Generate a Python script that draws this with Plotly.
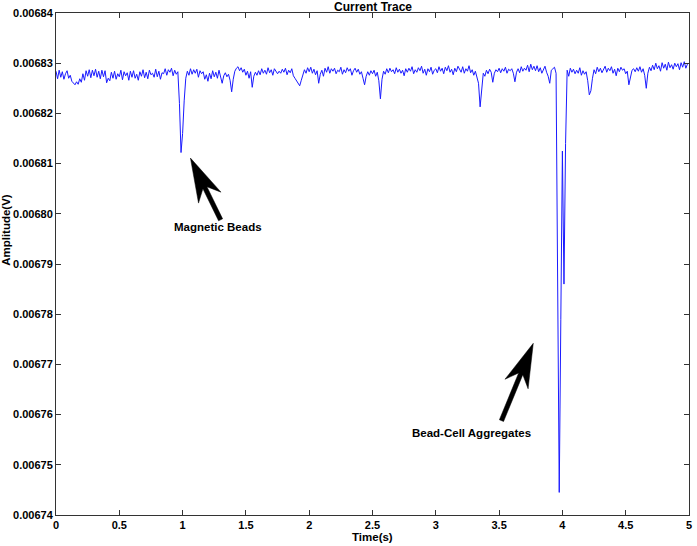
import numpy as np
import plotly.graph_objects as go

# ---------------- data ----------------
DT = 0.0125  # sampling step of the trace, seconds
amplitude_uV = [
    # 0.0 - 0.1875
    6828.4, 6826.9, 6828.6, 6827.2, 6828.3, 6826.8, 6827.9, 6828.5, 6827.0, 6827.6, 6826.4, 6826.0, 6825.7, 6826.3, 6825.8, 6826.9,
    # 0.2
    6826.2, 6827.9, 6826.6, 6828.5, 6827.4, 6828.7, 6827.1, 6828.6, 6827.5, 6828.8, 6827.2, 6828.4, 6826.9, 6828.6, 6827.3, 6828.5,
    # 0.4
    6826.1, 6827.0, 6826.5, 6828.2, 6827.0, 6828.4, 6826.8, 6827.9, 6827.3, 6828.6, 6826.7, 6828.3, 6827.5, 6828.1, 6826.6, 6828.4,
    # 0.6
    6827.2, 6828.5, 6827.0, 6827.8, 6826.6, 6828.3, 6827.4, 6828.7, 6827.1, 6828.2, 6826.9, 6828.6, 6827.7, 6828.0, 6827.2, 6828.8,
    # 0.8
    6827.3, 6828.4, 6826.8, 6828.1, 6827.9, 6828.9, 6827.6, 6828.7, 6828.2, 6829.0, 6827.5, 6828.6, 6827.8, 6828.3, 6822.0, 6812.2,
    # 1.0
    6816.0, 6822.5, 6827.0, 6828.4, 6827.6, 6828.9, 6827.8, 6828.7, 6828.0, 6828.8, 6827.2, 6828.5, 6827.9, 6828.3, 6826.8, 6827.7,
    # 1.2
    6826.4, 6828.0, 6826.9, 6828.5, 6827.3, 6828.2, 6827.0, 6828.6, 6827.4, 6826.0, 6827.5, 6828.1, 6827.3, 6827.8, 6826.6, 6824.3,
    # 1.4
    6826.8, 6828.4, 6829.0, 6829.3, 6828.5, 6829.1, 6828.2, 6828.8, 6827.6, 6828.4, 6827.0, 6828.3, 6825.2, 6827.4, 6828.2, 6827.6,
    # 1.6
    6828.5, 6827.7, 6828.9, 6828.0, 6828.6, 6827.8, 6829.1, 6828.1, 6828.7, 6827.6, 6828.9, 6828.3, 6827.9, 6828.4, 6828.0, 6828.8,
    # 1.8
    6828.2, 6829.0, 6827.7, 6828.6, 6828.1, 6828.9, 6827.5, 6827.0, 6826.4, 6825.8, 6825.5, 6826.6, 6827.6, 6828.7, 6828.0, 6829.1,
    # 2.0
    6828.3, 6829.2, 6828.0, 6828.8, 6827.7, 6828.5, 6826.0, 6827.8, 6828.6, 6827.4, 6829.0, 6828.2, 6829.3, 6828.0, 6828.9, 6828.4,
    # 2.2
    6829.0, 6827.9, 6828.6, 6828.3, 6829.2, 6827.8, 6828.7, 6828.1, 6829.1, 6828.4, 6828.9, 6827.6, 6828.5, 6829.0, 6828.2, 6828.8,
    # 2.4
    6827.8, 6828.3, 6827.0, 6825.7, 6827.4, 6828.3, 6827.6, 6828.5, 6827.9, 6828.6, 6827.4, 6828.2, 6826.5, 6822.9, 6826.8, 6828.4,
    # 2.6
    6827.8, 6828.9, 6828.1, 6829.0, 6828.3, 6828.7, 6827.9, 6829.1, 6828.2, 6828.8, 6828.0, 6828.6, 6827.5, 6828.9, 6828.2, 6829.0,
    # 2.8
    6828.4, 6829.3, 6827.9, 6828.7, 6828.2, 6829.1, 6828.5, 6829.4, 6828.0, 6828.8, 6827.6, 6828.9, 6828.3, 6829.2, 6827.8, 6828.6,
    # 3.0
    6828.9, 6828.1, 6829.3, 6828.4, 6829.0, 6827.9, 6829.2, 6828.5, 6829.5, 6828.2, 6828.8, 6827.7, 6829.0, 6828.3, 6829.4, 6828.6,
    # 3.2
    6828.2, 6829.3, 6828.0, 6828.9, 6828.4, 6829.5, 6828.1, 6828.7, 6827.6, 6828.4, 6827.2, 6826.0, 6821.3, 6825.5, 6828.0, 6827.4,
    # 3.4
    6828.6, 6827.9, 6828.8, 6828.2, 6826.2, 6828.0, 6828.7, 6828.3, 6829.0, 6828.1, 6828.9, 6828.4, 6829.2, 6828.0, 6828.8, 6828.5,
    # 3.6
    6828.9, 6828.0, 6826.3, 6828.2, 6828.9, 6828.1, 6829.3, 6828.4, 6829.0, 6828.6, 6829.6, 6828.3, 6829.8, 6828.7, 6829.4, 6828.5,
    # 3.8
    6829.5, 6828.3, 6829.1, 6828.0, 6828.8, 6829.4, 6828.2, 6827.4, 6826.0, 6828.6, 6828.9, 6829.2, 6828.0, 6790.0, 6744.5, 6779.0,
    # 4.0
    6812.5, 6786.0, 6814.0, 6828.6, 6827.4, 6829.0, 6828.2, 6828.8, 6827.9, 6828.6, 6828.0, 6829.1, 6827.6, 6828.5, 6827.8, 6828.3,
    # 4.2
    6826.5, 6823.7, 6824.5, 6827.0, 6828.7, 6827.9, 6829.2, 6828.3, 6829.0, 6828.1, 6828.7, 6829.4, 6828.2, 6829.0, 6828.5, 6829.3,
    # 4.4
    6828.0, 6828.8, 6827.5, 6829.0, 6828.3, 6829.2, 6828.6, 6828.9, 6827.9, 6828.4, 6825.7, 6827.2, 6828.6, 6828.9, 6828.3, 6829.1,
    # 4.6
    6828.4, 6829.3, 6828.2, 6828.9, 6827.6, 6825.0, 6828.0, 6829.2, 6828.5, 6829.6, 6828.7, 6830.0, 6828.9, 6829.5, 6828.4, 6830.1,
    # 4.8
    6829.0, 6829.8, 6828.6, 6830.2, 6829.1, 6829.7, 6828.8, 6830.0, 6829.3, 6829.9, 6828.7, 6830.1, 6829.2, 6830.3, 6829.0, 6829.8,
    # 5.0
    6830.0,
]

x_ticks = [0, 0.5, 1, 1.5, 2, 2.5, 3, 3.5, 4, 4.5, 5]
y_ticks = [0.00674, 0.00675, 0.00676, 0.00677, 0.00678, 0.00679,
           0.00680, 0.00681, 0.00682, 0.00683, 0.00684]

labels = ["Magnetic Beads", "Bead-Cell Aggregates"]
label_t = [1.282, 3.283]
label_v = [0.0067974, 0.0067563]
arrow_tip_t = [1.062, 3.770]
arrow_tip_v = [0.0068111, 0.0067742]
arrow_tail_t = [1.299, 3.520]
arrow_tail_v = [0.0067988, 0.0067588]

# ---------------- figure ----------------
W, H = 697, 546
ML, MR, MT, MB = 56, 5, 13, 31
PW, PH = W - ML - MR, H - MT - MB
X_RANGE = [0, 5]
Y_RANGE = [0.00674, 0.00684]

time_s = np.arange(len(amplitude_uV)) * DT
amplitude_V = np.array(amplitude_uV) * 1e-6

FONT = "Liberation Sans, Arial, Helvetica, sans-serif"

fig = go.Figure()
fig.add_trace(go.Scatter(x=time_s, y=amplitude_V, mode="lines",
                         line=dict(color="#1a1aff", width=1),
                         hoverinfo="skip", showlegend=False))

axis_common = dict(showgrid=False, zeroline=False, showline=True, mirror="ticks",
                   linecolor="#333333", linewidth=1, ticks="inside", ticklen=5,
                   tickcolor="#333333", tickwidth=1,
                   tickfont=dict(family=FONT, size=11, color="black", weight="bold"))

fig.update_xaxes(range=X_RANGE, tickvals=x_ticks,
                 ticktext=[f"{v:g}" for v in x_ticks], **axis_common)
fig.update_yaxes(range=Y_RANGE, tickvals=y_ticks,
                 ticktext=[f"{v:.5f}" for v in y_ticks], **axis_common)

# arrows (MATLAB-style notched heads), drawn in pixel space anchored at the tip
px_per_s = PW / (X_RANGE[1] - X_RANGE[0])
px_per_v = PH / (Y_RANGE[1] - Y_RANGE[0])
HEAD_L, HEAD_W, NOTCH, SHAFT_W = 44.0, 25.0, 33.0, 4.5
for tt, tv, bt, bv in zip(arrow_tip_t, arrow_tip_v, arrow_tail_t, arrow_tail_v):
    dx = (bt - tt) * px_per_s
    dy = (bv - tv) * px_per_v  # positive = up
    D = float(np.hypot(dx, dy))
    ux, uy = dx / D, dy / D
    nx, ny = -uy, ux
    pts = [
        (0.0, 0.0),
        (HEAD_L * ux + HEAD_W / 2 * nx, HEAD_L * uy + HEAD_W / 2 * ny),
        (NOTCH * ux + SHAFT_W / 2 * nx, NOTCH * uy + SHAFT_W / 2 * ny),
        (D * ux + SHAFT_W / 2 * nx, D * uy + SHAFT_W / 2 * ny),
        (D * ux - SHAFT_W / 2 * nx, D * uy - SHAFT_W / 2 * ny),
        (NOTCH * ux - SHAFT_W / 2 * nx, NOTCH * uy - SHAFT_W / 2 * ny),
        (HEAD_L * ux - HEAD_W / 2 * nx, HEAD_L * uy - HEAD_W / 2 * ny),
    ]
    path = "M " + " L ".join(f"{px:.2f},{py:.2f}" for px, py in pts) + " Z"
    fig.add_shape(type="path", path=path, xref="x", yref="y",
                  xsizemode="pixel", ysizemode="pixel",
                  xanchor=tt, yanchor=tv,
                  fillcolor="black", line=dict(color="black", width=0.5))

for txt, lt, lv in zip(labels, label_t, label_v):
    fig.add_annotation(x=lt, y=lv, xref="x", yref="y", text=txt, showarrow=False,
                       font=dict(family=FONT, size=11.5, color="black", weight="bold"))

fig.add_annotation(x=0.5, y=1, xref="paper", yref="paper", text="Current Trace",
                   showarrow=False, yanchor="middle", yshift=6,
                   font=dict(family=FONT, size=12, color="black", weight="bold"))
fig.add_annotation(x=0.5, y=0, xref="paper", yref="paper", text="Time(s)",
                   showarrow=False, yanchor="middle", yshift=-22,
                   font=dict(family=FONT, size=11.5, color="black", weight="bold"))
fig.add_annotation(x=0, y=0.568, xref="paper", yref="paper", text="Amplitude(V)",
                   showarrow=False, textangle=-90, xanchor="center", xshift=-50,
                   font=dict(family=FONT, size=11.5, color="black", weight="bold"))

fig.update_layout(width=W, height=H, margin=dict(l=ML, r=MR, t=MT, b=MB),
                  paper_bgcolor="white", plot_bgcolor="white", hovermode=False)

fig.write_html("out.html",
               config={"displayModeBar": False, "staticPlot": True},
               post_script="document.body.style.margin='0';"
                           "document.body.style.padding='0';"
                           "document.body.style.overflow='hidden';")
